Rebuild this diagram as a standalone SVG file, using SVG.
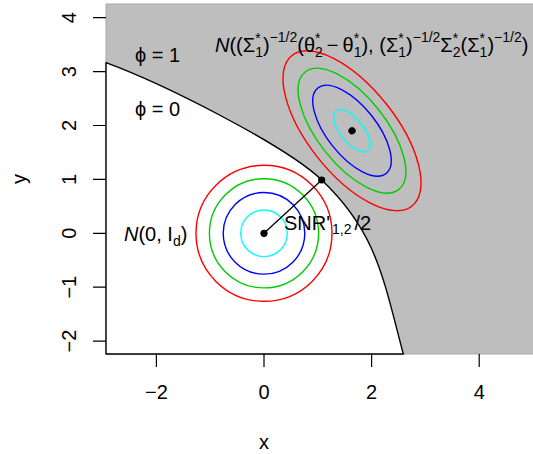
<svg xmlns="http://www.w3.org/2000/svg" width="533" height="454" viewBox="0 0 533 454">
<style>
text{font-family:"Liberation Sans",Arial,sans-serif;font-size:20px;fill:#000}
.it{font-style:italic}
.s{font-size:14px}
.tick{stroke:#000;stroke-width:1.2;fill:none}
.c{fill:none;stroke-width:1.4}
.red{stroke:#FF0000}.grn{stroke:#00CD00}.blu{stroke:#0000FF}.cya{stroke:#00FFFF}
.dot{fill:#000}
</style>
<rect width="533" height="454" fill="#fff"/>
<g id="region-phi1">
<rect x="106" y="4" width="430" height="350" fill="#BEBEBE" stroke="#A8A8A8" stroke-width="1"/>
</g>
<g id="region-phi0">
<path d="M106,354 L106,62.7 C166,84.9 285.45,145.55 321.7,180 C376.1,231.7 382.9,276.6 403.3,354 Z" fill="#fff" stroke="#000" stroke-width="1.4" stroke-linejoin="round"/>
</g>
<g id="axes">
<path class="tick" d="M93,17.7H106M93,71.6H106M93,125.5H106M93,179.4H106M93,233.3H106M93,287.2H106M93,341.1H106"/>
<path class="tick" d="M156.4,354V367M264,354V367M371.6,354V367M479.2,354V367"/>
<g text-anchor="middle">
<text x="156.4" y="399">−2</text>
<text x="264" y="399">0</text>
<text x="371.6" y="399">2</text>
<text x="479.2" y="399">4</text>
<text x="264" y="449">x</text>
<text transform="translate(76,17.7) rotate(-90)">4</text>
<text transform="translate(76,71.6) rotate(-90)">3</text>
<text transform="translate(76,125.5) rotate(-90)">2</text>
<text transform="translate(76,179.4) rotate(-90)">1</text>
<text transform="translate(76,233.3) rotate(-90)">0</text>
<text transform="translate(76,287.2) rotate(-90)">−1</text>
<text transform="translate(76,341.1) rotate(-90)">−2</text>
<text transform="translate(26,179) rotate(-90)">y</text>
</g>
</g>
<g id="dist-standard">
<circle class="c red" cx="264" cy="233.3" r="68"/>
<circle class="c grn" cx="264" cy="233.3" r="54.6"/>
<circle class="c blu" cx="264" cy="233.3" r="40.8"/>
<circle class="c cya" cx="264" cy="233.3" r="23.3"/>
<circle class="dot" cx="264" cy="233.3" r="3.6"/>
</g>
<g id="dist-transformed" transform="translate(352,130.7) rotate(51.4)">
<ellipse class="c red" rx="96.3" ry="43.5"/>
<ellipse class="c grn" rx="75.1" ry="33.9"/>
<ellipse class="c blu" rx="54.7" ry="24.7"/>
<ellipse class="c cya" rx="25.6" ry="11.6"/>
<circle class="dot" r="3.6"/>
</g>
<g id="connectors">
<line x1="264" y1="233.3" x2="321.7" y2="180" stroke="#000" stroke-width="1.3"/>
<circle class="dot" cx="321.7" cy="180" r="3.6"/>
</g>
<g id="label-phi1"><text x="135" y="62">ϕ = 1</text></g>
<g id="label-phi0"><text x="135" y="116">ϕ = 0</text></g>
<g id="label-standard"><text x="124" y="241"><tspan class="it">N</tspan>(0, I<tspan class="s" y="246">d</tspan><tspan y="241">)</tspan></text></g>
<g id="label-snr"><text x="284" y="229.5">SNR'<tspan class="s" dx="2" y="234">1,2</tspan><tspan dx="3" y="229.5">/2</tspan></text></g>
<g id="label-transformed"><text x="215" y="51.7"><tspan class="it">N</tspan>((Σ<tspan class="s" y="42.5">*</tspan><tspan class="s" dx="-5.45" y="57.3">1</tspan><tspan y="51.7">)</tspan><tspan class="s" y="42">−1/2</tspan><tspan y="51.7">(θ</tspan><tspan class="s" y="42.5">*</tspan><tspan class="s" dx="-5.45" y="57.3">2</tspan><tspan y="51.7" dx="4">−</tspan><tspan dx="4">θ</tspan><tspan class="s" y="42.5">*</tspan><tspan class="s" dx="-5.45" y="57.3">1</tspan><tspan y="51.7">), (Σ</tspan><tspan class="s" y="42.5">*</tspan><tspan class="s" dx="-5.45" y="57.3">1</tspan><tspan y="51.7">)</tspan><tspan class="s" y="42">−1/2</tspan><tspan y="51.7">Σ</tspan><tspan class="s" y="42.5">*</tspan><tspan class="s" dx="-5.45" y="57.3">2</tspan><tspan y="51.7">(Σ</tspan><tspan class="s" y="42.5">*</tspan><tspan class="s" dx="-5.45" y="57.3">1</tspan><tspan y="51.7">)</tspan><tspan class="s" y="42">−1/2</tspan><tspan y="51.7">)</tspan></text></g>
</svg>
